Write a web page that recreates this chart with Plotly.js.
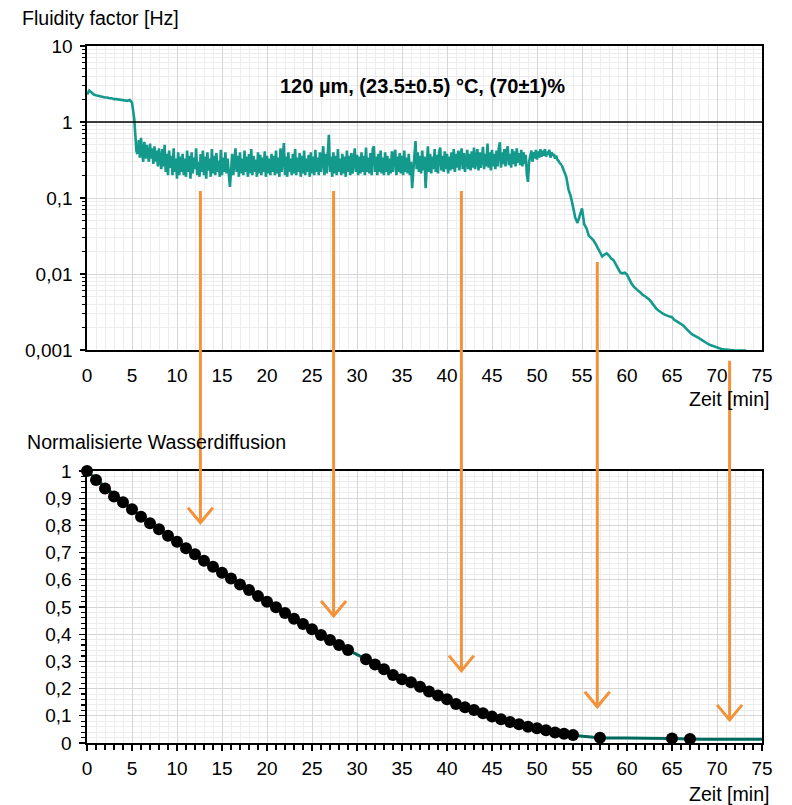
<!DOCTYPE html>
<html><head><meta charset="utf-8">
<script src="https://cdn.plot.ly/plotly-3.0.1.min.js"></script>
<style>html,body{margin:0;padding:0;background:#fff}</style>
</head><body><div id="chart" style="width:792px;height:805px"></div>
<script>
// ---------- DATA ----------
// Fluidity factor [Hz] – start phase, every 0.25 min from 0 to 5.5 min
const fluidityStartX0 = 0;
const fluidityStartDx = 0.25;
const fluidityStart = [2.3,2.6,2.45,2.3,2.25,2.2,2.15,2.15,2.1,2.1,2.05,2.05,2.0,2.0,1.98,1.95,1.95,1.92,1.9,1.95,1.8,1.1,0.4];

// Fluidity factor [Hz] – noisy plateau, every 0.125 min from 5.625 to 52.5 min
const fluidityPlateauX0 = 5.625;
const fluidityPlateauDx = 0.125;
const fluidityPlateau = [
  // 5.625 - 10.5
  0.38,0.58,0.34,0.62,0.4,0.3,0.55,0.33,0.5,0.36,0.3,0.52,0.33,0.45,0.28,0.48,0.3,0.42,0.26,0.45,
  0.3,0.24,0.44,0.26,0.5,0.22,0.38,0.2,0.42,0.25,0.36,0.2,0.45,0.22,0.33,0.18,0.4,0.2,0.35,0.22,
  // 10.625 - 15.5
  0.38,0.2,0.33,0.19,0.42,0.22,0.36,0.18,0.4,0.21,0.34,0.24,0.45,0.2,0.3,0.19,0.38,0.22,0.42,0.2,
  0.35,0.18,0.4,0.23,0.33,0.19,0.44,0.21,0.36,0.2,0.39,0.22,0.31,0.19,0.43,0.2,0.34,0.22,0.4,0.21,
  // 15.625 - 20.5
  0.33,0.2,0.14,0.22,0.38,0.2,0.35,0.45,0.22,0.36,0.19,0.4,0.21,0.33,0.2,0.42,0.22,0.35,0.19,0.38,
  0.21,0.44,0.2,0.36,0.22,0.32,0.19,0.4,0.21,0.37,0.2,0.34,0.22,0.41,0.19,0.36,0.21,0.33,0.2,0.38,
  // 20.625 - 25.5
  0.22,0.36,0.2,0.42,0.21,0.34,0.19,0.45,0.22,0.38,0.53,0.2,0.35,0.19,0.4,0.22,0.33,0.2,0.38,0.21,
  0.44,0.2,0.34,0.22,0.39,0.19,0.36,0.21,0.42,0.2,0.33,0.22,0.37,0.19,0.4,0.21,0.35,0.2,0.43,0.22,
  // 25.625 - 30.5
  0.34,0.2,0.4,0.22,0.36,0.48,0.2,0.38,0.21,0.42,0.68,0.22,0.35,0.19,0.4,0.21,0.36,0.2,0.44,0.22,
  0.33,0.2,0.38,0.21,0.35,0.19,0.42,0.22,0.36,0.2,0.39,0.21,0.34,0.45,0.22,0.37,0.2,0.35,0.21,0.4,
  // 30.625 - 35.5
  0.22,0.36,0.2,0.46,0.22,0.34,0.21,0.39,0.2,0.44,0.48,0.22,0.35,0.2,0.38,0.22,0.42,0.21,0.34,0.2,
  0.4,0.22,0.36,0.2,0.33,0.21,0.41,0.22,0.37,0.43,0.2,0.35,0.22,0.39,0.21,0.36,0.2,0.42,0.22,0.34,
  // 35.625 - 40.5
  0.21,0.38,0.2,0.3,0.135,0.25,0.36,0.56,0.24,0.4,0.22,0.36,0.21,0.42,0.23,0.35,0.135,0.26,0.48,0.22,
  0.38,0.21,0.35,0.24,0.44,0.22,0.37,0.21,0.4,0.46,0.23,0.36,0.22,0.41,0.24,0.38,0.21,0.35,0.23,0.4,
  // 40.625 - 45.5
  0.24,0.44,0.22,0.38,0.25,0.42,0.23,0.36,0.45,0.24,0.39,0.22,0.35,0.43,0.24,0.38,0.23,0.41,0.25,0.46,
  0.24,0.37,0.44,0.23,0.4,0.25,0.36,0.47,0.24,0.38,0.26,0.52,0.25,0.4,0.23,0.43,0.26,0.38,0.24,0.42,
  // 45.625 - 50.5
  0.26,0.45,0.54,0.25,0.4,0.28,0.44,0.26,0.42,0.48,0.27,0.38,0.25,0.44,0.28,0.41,0.26,0.45,0.29,0.39,
  0.27,0.43,0.26,0.4,0.28,0.37,0.2,0.163,0.3,0.36,0.42,0.3,0.4,0.33,0.43,0.32,0.41,0.34,0.44,0.35,
  // 50.625 - 52.5
  0.42,0.36,0.44,0.35,0.41,0.37,0.43,0.34,0.4,0.36,0.38,0.33,0.36,0.32,0.31,0.29
];

// Fluidity factor [Hz] – decay, every 0.25 min from 52.75 to 73.25 min
const fluidityDecayX0 = 52.75;
const fluidityDecayDx = 0.25;
const fluidityDecay = [
  0.27,0.22,0.19,0.13,          // 52.75 - 53.5
  0.105,0.077,0.055,0.047,      // 53.75 - 54.5
  0.06,0.073,0.045,0.04,        // 54.75 - 55.5
  0.032,0.03,0.028,0.025,       // 55.75 - 56.5
  0.022,0.019,0.017,0.018,      // 56.75 - 57.5
  0.0187,0.0175,0.016,0.0152,   // 57.75 - 58.5
  0.0135,0.012,0.0105,0.0102,   // 58.75 - 59.5
  0.0104,0.0098,0.0085,0.0075,  // 59.75 - 60.5
  0.0068,0.0063,0.006,0.0057,   // 60.75 - 61.5
  0.0053,0.0051,0.0049,0.0046,  // 61.75 - 62.5
  0.0042,0.0038,0.0035,0.0033,  // 62.75 - 63.5
  0.0031,0.003,0.0029,0.0028,   // 63.75 - 64.5
  0.00275,0.0027,0.0025,0.0024, // 64.75 - 65.5
  0.0023,0.0022,0.0021,0.00195, // 65.75 - 66.5
  0.0018,0.0017,0.0016,0.00155, // 66.75 - 67.5
  0.0015,0.00143,0.00137,0.0013,// 67.75 - 68.5
  0.00125,0.0012,0.00116,0.00113,// 68.75 - 69.5
  0.0011,0.00107,0.00105,0.00103,// 69.75 - 70.5
  0.00102,0.00101,0.001,0.001,  // 70.75 - 71.5
  0.00099,0.00099,0.00098,0.00098,// 71.75 - 72.5
  0.00098,0.00098,0.00098       // 72.75 - 73.25
];

// Normalised water diffusion (measured points)
const diffTime = [0,1,2,3,4,5,6,7,8,9,10,11,12,13,14,15,16,17,18,19,20,21,22,23,24,25,26,27,28,29,
  31,32,33,34,35,36,37,38,39,40,41,42,43,44,45,46,47,48,49,50,51,52,53,54,57,65,67];
const diffValue = [1.0,0.967,0.936,0.906,0.885,0.859,0.832,0.808,0.786,0.762,0.740,0.716,0.694,0.670,0.648,
  0.626,0.605,0.583,0.5625,0.540,0.519,0.499,0.478,0.457,0.4375,0.418,0.397,0.379,0.360,0.342,
  0.308,0.289,0.271,0.250,0.234,0.223,0.207,0.189,0.175,0.161,0.143,0.131,0.121,0.109,0.097,0.087,
  0.077,0.069,0.060,0.054,0.047,0.039,0.034,0.029,0.0195,0.017,0.0147];

// Fitted curve under the points
const fitTime = [0,5,10,15,20,25,29,30,31,35,40,45,50,54,55,56,57,60,65,67,70,75];
const fitValue = [1,0.859,0.74,0.626,0.519,0.418,0.342,0.325,0.308,0.234,0.161,0.097,0.054,0.029,0.025,0.022,0.0195,0.018,0.017,0.0147,0.014,0.0135];

// Orange arrows: time, start (fluidity value) and tip (diffusion value)
const arrowTime = [12.6,27.4,41.6,56.7,71.4];
const arrowFrom = [0.124,0.124,0.124,0.0144,0.00072];
const arrowTo = [0.81,0.467,0.266,0.133,0.085];

const yTickVals = [0.001,0.01,0.1,1,10];
const yTickText = ['0,001','0,01','0,1','1','10'];

// ---------- LAYOUT ----------
const W = 792, H = 805, mL = 87, mR = 30, mT = 46, mB = 62;
const pw = W - mL - mR, ph = H - mT - mB;
const topDomain = [1 - (350 - mT) / ph, 1];
const botDomain = [0, (743 - 471) / ph];
const px2x = p => (p - mL) / pw;
const py2y = p => (H - mB - p) / ph;

const FONT = 'Arial, "Liberation Sans", sans-serif';
const tickFont = {family: FONT, size: 19, color: '#000'};
const MAJ = '#d6d6d6', MIN = '#ededed';
const TEAL = '#149a8d';

function topY(v) { return topDomain[0] + (Math.log10(v) + 3) / 4 * (topDomain[1] - topDomain[0]); }
function botY(v) { return botDomain[0] + v * (botDomain[1] - botDomain[0]); }

const orange = '#f2933a';
const shapes = [
  {type: 'line', xref: 'x domain', yref: 'y domain', x0: 0, x1: 1, y0: 0.75, y1: 0.75,
   line: {color: '#000', width: 1.6}, layer: 'above'}
];
const wingX = 12.5 / (pw / 75), wingY = 15 / ph;
arrowTime.forEach((t, i) => {
  const y0 = topY(arrowFrom[i]), y1 = botY(arrowTo[i]);
  shapes.push({type: 'line', xref: 'x', yref: 'paper', x0: t, x1: t, y0: y0, y1: y1,
    line: {color: orange, width: 3}, layer: 'above'});
  shapes.push({type: 'path', xref: 'x', yref: 'paper',
    path: `M ${t - wingX},${y1 + wingY} L ${t},${y1} L ${t + wingX},${y1 + wingY}`,
    line: {color: orange, width: 3}, layer: 'above'});
});

const labFont = {family: FONT, size: 19.6, color: '#000'};
const annotations = [
  {text: 'Fluidity factor [Hz]', xref: 'paper', yref: 'paper', x: px2x(20), y: py2y(18),
   xanchor: 'left', yanchor: 'middle', showarrow: false, font: labFont},
  {text: '<b>120 µm, (23.5±0.5) °C, (70±1)%</b>', xref: 'paper', yref: 'paper', x: px2x(422), y: py2y(86),
   xanchor: 'center', yanchor: 'middle', showarrow: false, font: {family: FONT, size: 20, color: '#000'}},
  {text: 'Zeit [min]', xref: 'paper', yref: 'paper', x: px2x(772), y: py2y(399),
   xanchor: 'right', yanchor: 'middle', showarrow: false, font: labFont},
  {text: 'Normalisierte Wasserdiffusion', xref: 'paper', yref: 'paper', x: px2x(25), y: py2y(442),
   xanchor: 'left', yanchor: 'middle', showarrow: false, font: labFont},
  {text: 'Zeit [min]', xref: 'paper', yref: 'paper', x: px2x(772), y: py2y(794),
   xanchor: 'right', yanchor: 'middle', showarrow: false, font: labFont}
];

const topLine = {color: TEAL, width: 2.6};
const startEnd = fluidityStartX0 + fluidityStartDx * (fluidityStart.length - 1);
const plateauEnd = fluidityPlateauX0 + fluidityPlateauDx * (fluidityPlateau.length - 1);
const traces = [
  {type: 'scatter', mode: 'lines', x0: fluidityStartX0, dx: fluidityStartDx, y: fluidityStart,
   line: topLine, xaxis: 'x', yaxis: 'y', hoverinfo: 'skip'},
  {type: 'scatter', mode: 'lines', x0: startEnd, dx: fluidityPlateauX0 - startEnd,
   y: [fluidityStart[fluidityStart.length - 1], fluidityPlateau[0]],
   line: topLine, xaxis: 'x', yaxis: 'y', hoverinfo: 'skip'},
  {type: 'scatter', mode: 'lines', x0: fluidityPlateauX0, dx: fluidityPlateauDx, y: fluidityPlateau,
   line: topLine, xaxis: 'x', yaxis: 'y', hoverinfo: 'skip'},
  {type: 'scatter', mode: 'lines', x0: plateauEnd, dx: fluidityDecayX0 - plateauEnd,
   y: [fluidityPlateau[fluidityPlateau.length - 1], fluidityDecay[0]],
   line: topLine, xaxis: 'x', yaxis: 'y', hoverinfo: 'skip'},
  {type: 'scatter', mode: 'lines', x0: fluidityDecayX0, dx: fluidityDecayDx, y: fluidityDecay,
   line: topLine, xaxis: 'x', yaxis: 'y', hoverinfo: 'skip'},
  {type: 'scatter', mode: 'lines', x: fitTime, y: fitValue,
   line: {color: '#00695e', width: 3, shape: 'spline'}, xaxis: 'x2', yaxis: 'y2', hoverinfo: 'skip'},
  {type: 'scatter', mode: 'markers', x: diffTime, y: diffValue,
   marker: {color: '#000', size: 12}, cliponaxis: false, xaxis: 'x2', yaxis: 'y2', hoverinfo: 'skip'}
];

const layout = {
  width: W, height: H,
  margin: {l: mL, r: mR, t: mT, b: mB},
  paper_bgcolor: '#fff', plot_bgcolor: '#fff',
  showlegend: false,
  separators: ',.',
  font: {family: FONT, size: 19, color: '#000'},
  xaxis: {domain: [0, 1], anchor: 'y', range: [0, 75], tick0: 0, dtick: 5,
    showgrid: true, gridcolor: MAJ, gridwidth: 1, zeroline: false,
    minor: {dtick: 1, showgrid: true, gridcolor: MIN},
    showline: true, linecolor: '#000', linewidth: 1.6, mirror: true,
    ticks: '', tickfont: tickFont, ticklabelstandoff: 8},
  yaxis: {domain: topDomain, anchor: 'x', type: 'log', range: [-3, 1],
    tickmode: 'array', tickvals: yTickVals, ticktext: yTickText,
    ticks: 'outside', ticklen: 5, tickcolor: '#000', tickwidth: 1.2,
    showgrid: true, gridcolor: MAJ, zeroline: false,
    minor: {tickmode: 'linear', dtick: 'D1', ticks: 'outside', ticklen: 3, tickcolor: '#000', showgrid: true, gridcolor: MIN},
    showline: true, linecolor: '#000', linewidth: 1.6, mirror: true,
    tickfont: tickFont, ticklabelstandoff: 4},
  xaxis2: {domain: [0, 1], anchor: 'y2', range: [0, 75], tick0: 0, dtick: 5,
    showgrid: true, gridcolor: MAJ, zeroline: false,
    minor: {dtick: 1, ticks: 'outside', ticklen: 5, tickcolor: '#000', showgrid: true, gridcolor: MIN},
    ticks: 'outside', ticklen: 6, tickcolor: '#000', tickwidth: 1.2,
    showline: true, linecolor: '#000', linewidth: 1.6, mirror: true,
    tickfont: tickFont, ticklabelstandoff: 2},
  yaxis2: {domain: botDomain, anchor: 'x2', range: [0, 1], tick0: 0, dtick: 0.1,
    showgrid: true, gridcolor: MAJ, zeroline: false,
    minor: {dtick: 0.02, ticks: 'outside', ticklen: 4, tickcolor: '#000', showgrid: true, gridcolor: MIN},
    ticks: 'outside', ticklen: 6, tickcolor: '#000', tickwidth: 1.2,
    showline: true, linecolor: '#000', linewidth: 1.6, mirror: true,
    tickfont: tickFont, ticklabelstandoff: 4},
  shapes: shapes,
  annotations: annotations
};

Plotly.newPlot('chart', traces, layout, {displayModeBar: false, staticPlot: true});
</script></body></html>
